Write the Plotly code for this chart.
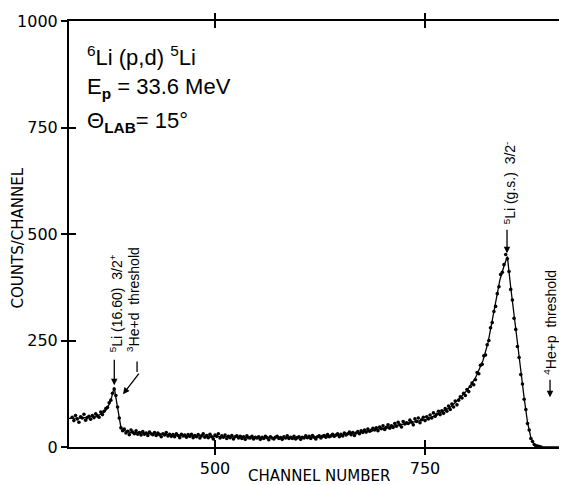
import plotly.graph_objects as go

# ---------------- data ----------------
# fitted curve (channel, counts)
line_ch = [326, 330, 340, 350, 360, 365, 370, 374, 377, 380, 382, 384, 386, 388, 391, 395, 400,
           420, 450, 500, 550, 600, 630, 650, 675, 700, 725, 750, 760, 770, 780, 790, 800, 810,
           819, 825, 831, 835, 839, 844, 848, 852, 856, 860, 864, 868, 872, 876, 880, 884, 890, 919]
line_val = [67, 67, 68, 70, 73, 78, 86, 100, 117, 140, 118, 94, 65, 46, 39, 36, 34,
            32, 28, 25, 22, 22, 24, 28, 35, 44, 54, 64, 72, 82, 93, 112, 133, 162,
            203, 245, 304, 345, 391, 425, 447, 375, 307, 240, 174, 115, 58, 22, 5, 1, 0, 0]

# measured spectrum, one point every 2 channels from 330 to 888
dot_ch = list(range(330, 889, 2))
dot_counts = [
    70, 62, 74, 66, 58, 71, 68, 77, 63, 69,
    72, 65, 74, 69, 78, 73, 70, 82, 76, 84,
    90, 93, 104, 110, 126, 136, 121, 94, 68, 45,
    38, 42, 33, 37, 29, 40, 35, 31, 38, 30,
    34, 28, 36, 30, 33, 27, 35, 31, 29, 34,
    27, 33, 29, 24, 31, 28, 34, 26, 30, 25,
    29, 24, 31, 27, 22, 30, 26, 28, 23, 29,
    25, 30, 22, 27, 24, 29, 21, 26, 31, 23,
    27, 22, 30, 24, 19, 28, 25, 31, 21, 26,
    23, 28, 20, 25, 22, 27, 19, 24, 26, 21,
    25, 20, 24, 18, 26, 22, 21, 25, 19, 23,
    21, 24, 18, 23, 20, 25, 22, 17, 24, 21,
    19, 23, 25, 20, 22, 18, 24, 21, 26, 20,
    23, 20, 25, 19, 22, 24, 18, 23, 21, 26,
    22, 25, 20, 27, 23, 19, 24, 26, 21, 25,
    27, 23, 29, 24, 26, 30, 25, 28, 31, 24,
    30, 26, 33, 28, 31, 35, 29, 34, 27, 33,
    36, 31, 38, 34, 40, 35, 42, 37, 39, 44,
    40, 45, 38, 47, 43, 50, 41, 46, 52, 44,
    50, 46, 55, 49, 58, 52, 47, 60, 54, 57,
    55, 63, 58, 52, 66, 60, 68, 57, 64, 70,
    62, 71, 66, 75, 68, 80, 72, 77, 84, 76,
    85, 79, 90, 84, 96, 88, 101, 94, 108, 99,
    110, 118, 115, 126, 121, 135, 130, 142, 150, 146,
    158, 175, 172, 192, 194, 214, 216, 240, 250, 280,
    292, 318, 330, 360, 376, 405, 410, 428, 452, 442,
    412, 370, 345, 302, 276, 236, 210, 170, 148, 112,
    88, 55, 40, 20, 13, 6, 3, 2, 1, 0,
]

x_ticks = [500, 750]
x_tick_text = ["500", "750"]
y_ticks = [0, 250, 500, 750, 1000]
y_tick_text = ["0", "250", "500", "750", "1000"]

X_RANGE = [326.2, 919.0]
Y_RANGE = [0, 1000]

TXT = "Liberation Sans"
TCK = "DejaVu Sans"

fig = go.Figure()
fig.add_trace(go.Scatter(x=line_ch, y=line_val, mode="lines",
                         line=dict(color="black", width=1.3), hoverinfo="skip"))
fig.add_trace(go.Scatter(x=dot_ch, y=dot_counts, mode="markers",
                         marker=dict(color="black", size=3.6, line=dict(width=0))))
# invisible trace to activate the overlay axes (inner half of crossing ticks)
fig.add_trace(go.Scatter(x=[None], y=[None], xaxis="x2", yaxis="y2", mode="markers",
                         showlegend=False, hoverinfo="skip"))

axis_common = dict(showgrid=False, zeroline=False, color="black", tickcolor="black",
                   tickwidth=1.5)

# the page body has an 8px margin: figure is sized to fill the 567x485 window
fig.update_layout(
    width=559, height=477, autosize=False,
    margin=dict(l=61, r=0, t=13, b=38),
    paper_bgcolor="white", plot_bgcolor="white",
    showlegend=False,
    xaxis=dict(range=X_RANGE, tickvals=x_ticks, ticktext=x_tick_text,
               ticks="outside", ticklen=6, showline=True, linecolor="black", linewidth=2,
               mirror="ticks", tickfont=dict(family=TCK, size=16, color="black"),
               **axis_common),
    yaxis=dict(range=Y_RANGE, tickvals=y_ticks, ticktext=y_tick_text,
               ticks="outside", ticklen=6, showline=True, linecolor="black", linewidth=2,
               tickfont=dict(family=TCK, size=16, color="black"),
               **axis_common),
    xaxis2=dict(range=X_RANGE, overlaying="x", side="bottom", tickvals=x_ticks,
                ticks="inside", ticklen=7, showticklabels=False, showline=False,
                mirror="ticks", **axis_common),
    yaxis2=dict(range=Y_RANGE, overlaying="y", side="left", tickvals=y_ticks,
                ticks="inside", ticklen=7, showticklabels=False, showline=False,
                **axis_common),
)

ann = []
# title block
ann.append(dict(xref="paper", yref="paper", x=0.032, y=0.917, xanchor="left", yanchor="middle",
                text="<sup>6</sup>Li (p,d) <sup>5</sup>Li", showarrow=False,
                font=dict(family=TXT, size=22, color="black")))
ann.append(dict(xref="paper", yref="paper", x=0.032, y=0.843, xanchor="left", yanchor="middle",
                text="E<sub><b>p</b></sub> = 33.6 MeV", showarrow=False,
                font=dict(family=TXT, size=22, color="black")))
ann.append(dict(xref="paper", yref="paper", x=0.032, y=0.763, xanchor="left", yanchor="middle",
                text="Θ<sub><b>LAB</b></sub>= 15°", showarrow=False,
                font=dict(family=TXT, size=22, color="black")))
# axis titles
ann.append(dict(xref="paper", yref="paper", x=0.502, y=-0.068, xanchor="center", yanchor="middle",
                text="CHANNEL NUMBER", showarrow=False, borderpad=0,
                font=dict(family=TCK, size=15, color="black")))
ann.append(dict(xref="paper", yref="paper", x=-0.102, y=0.49, xanchor="center", yanchor="middle",
                text="COUNTS/CHANNEL", showarrow=False, textangle=-90, borderpad=0,
                font=dict(family=TCK, size=15, color="black")))

lab_font = dict(family=TXT, size=14, color="black")
# peak labels (rotated)
ann.append(dict(x=382.2, y=218, xanchor="center", yanchor="bottom", textangle=-90,
                text="<sup>5</sup>Li (16.60)  3/2<sup>+</sup>", showarrow=False, font=lab_font))
ann.append(dict(x=401.5, y=218, xanchor="center", yanchor="bottom", textangle=-90,
                text="<sup>3</sup>He+d  threshold", showarrow=False, font=lab_font))
ann.append(dict(x=850.5, y=518, xanchor="center", yanchor="bottom", textangle=-90,
                text="<sup>5</sup>Li (g.s.)  3/2<sup>-</sup>", showarrow=False, font=lab_font))
ann.append(dict(x=898.8, y=164, xanchor="center", yanchor="bottom", textangle=-90,
                text="<sup>4</sup>He+p  threshold", showarrow=False, font=lab_font))
# arrows
arrow_style = dict(text="", showarrow=True, arrowcolor="black", arrowwidth=1.3,
                   arrowsize=1, standoff=0, startstandoff=0)
ann.append(dict(x=380.1, y=145, ax=0, ay=-27, arrowhead=2, **arrow_style))
ann.append(dict(x=407.2, y=176, ax=0, ay=-12, arrowhead=0, **arrow_style))
ann.append(dict(x=390.5, y=124, ax=17, ay=-22, arrowhead=2, **arrow_style))
ann.append(dict(x=847.6, y=455, ax=0, ay=-25, arrowhead=2, **arrow_style))
ann.append(dict(x=898.8, y=117, ax=0, ay=-19, arrowhead=2, **arrow_style))

fig.update_layout(annotations=ann)

fig.write_html("out.html")
